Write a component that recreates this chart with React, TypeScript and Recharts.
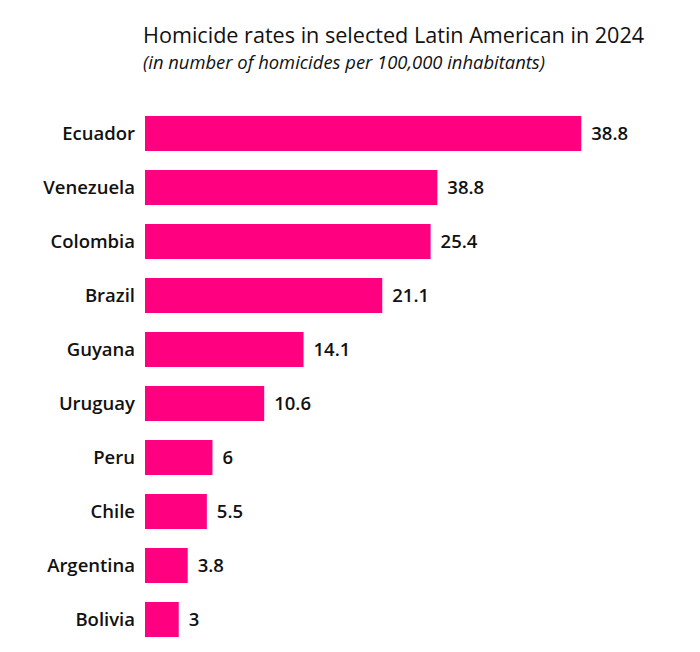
import { BarChart, Bar, XAxis, YAxis, LabelList } from 'recharts';

const countries = ['Ecuador', 'Venezuela', 'Colombia', 'Brazil', 'Guyana', 'Uruguay', 'Peru', 'Chile', 'Argentina', 'Bolivia'];
// bar lengths as drawn (Venezuela's bar is shorter than its printed label)
const rates = [38.8, 26.0, 25.4, 21.1, 14.1, 10.6, 6, 5.5, 3.8, 3];
const rateLabels = ['38.8', '38.8', '25.4', '21.1', '14.1', '10.6', '6', '5.5', '3.8', '3'];

const PINK = '#ff0080';
const FONT = '"Open Sans", "Noto Sans", sans-serif';

const data = countries.map((name, i) => ({ name, rate: rates[i], label: rateLabels[i] }));

export default function App() {
  return (
    <div style={{ position: 'absolute', left: 0, top: 0, width: 700, height: 652, background: '#fff', fontFamily: FONT }}>
      <div style={{ position: 'absolute', left: 143, top: 20, fontSize: 21.6, color: '#111', whiteSpace: 'nowrap' }}>
        Homicide rates in selected Latin American in 2024
      </div>
      <div style={{ position: 'absolute', left: 143, top: 49, fontSize: 18.4, fontStyle: 'italic', color: '#111', whiteSpace: 'nowrap' }}>
        (in number of homicides per 100,000 inhabitants)
      </div>
      <BarChart
        width={700}
        height={652}
        data={data}
        layout="vertical"
        margin={{ top: 106, right: 49, bottom: 6, left: 0 }}
        barCategoryGap={19}
      >
        <XAxis type="number" domain={[0, 45]} hide />
        <YAxis
          type="category"
          dataKey="name"
          width={145}
          axisLine={false}
          tickLine={false}
          tickSize={0}
          tickMargin={10}
          tick={{ fill: '#111', fontSize: 18.5, fontWeight: 600, fontFamily: FONT }}
        />
        <Bar dataKey="rate" fill={PINK} barSize={35} isAnimationActive={false}>
          <LabelList
            dataKey="label"
            position="right"
            offset={10}
            style={{ fill: '#111', fontSize: 18.5, fontWeight: 600, fontFamily: FONT }}
          />
        </Bar>
      </BarChart>
    </div>
  );
}
